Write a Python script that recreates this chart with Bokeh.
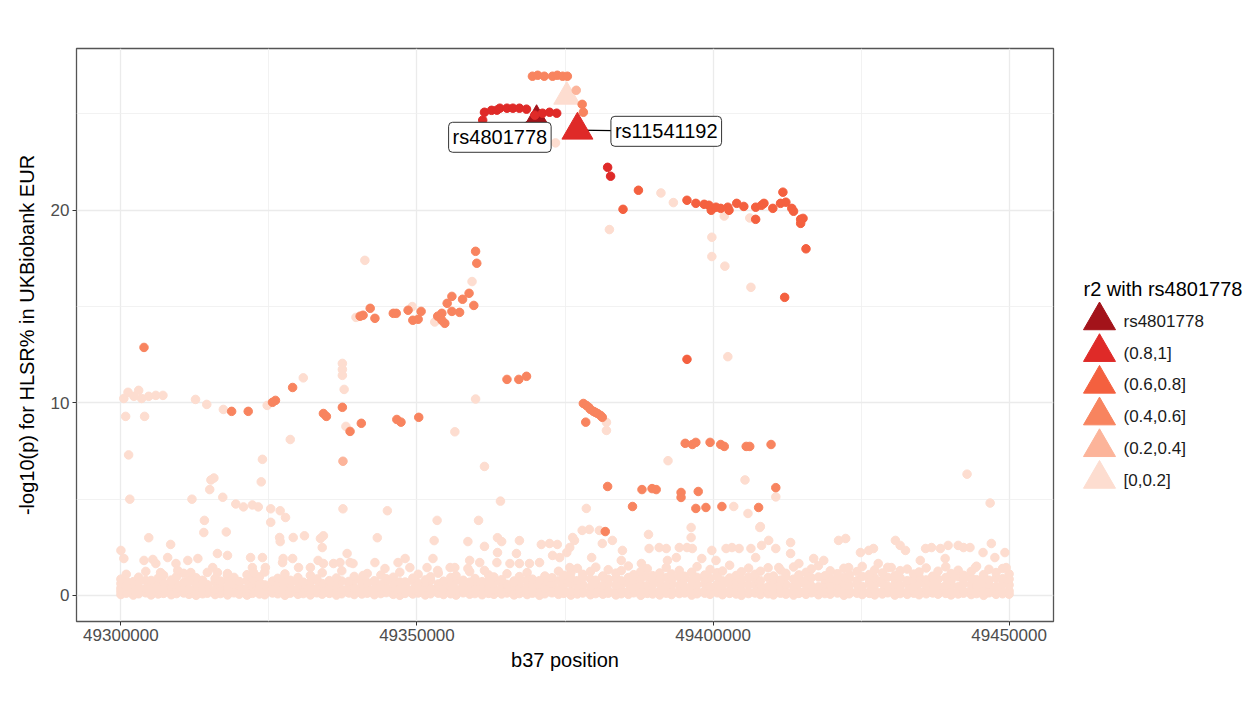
from bokeh.plotting import figure
from bokeh.models import Range1d, FixedTicker, Label, NumeralTickFormatter
from bokeh.layouts import row
from bokeh.embed import file_html
from bokeh.resources import INLINE
from bokeh.core.properties import value

FONT = "Liberation Sans"

# ---------------- data ----------------
categories = ["rs4801778", "(0.8,1]", "(0.6,0.8]", "(0.4,0.6]", "(0.2,0.4]", "[0,0.2]"]
cat_colors = ["#A3131A", "#DF2A28", "#F4603F", "#F8845F", "#FCB49A", "#FDDDD0"]
legend_title = "r2 with rs4801778"

x_ticks = [49300000, 49350000, 49400000, 49450000]
x_minor = [49325000, 49375000, 49425000]
y_ticks = [0, 10, 20]
y_minor = [5, 15, 25]

x_label = "b37 position"
y_label = "-log10(p) for HLSR% in UKBiobank EUR"

# dense band of r2 in [0,0.2] (positions in kb)
band_pos_kb = [
    49300.0, 49300.9, 49302.1, 49303.0, 49304.2, 49305.1, 49306.3, 49307.2, 49308.5, 49309.4,
    49310.6, 49311.5, 49312.7, 49313.8, 49314.6, 49315.9, 49316.8, 49318.0, 49319.1, 49320.0,
    49321.3, 49322.2, 49323.4, 49324.3, 49325.6, 49326.5, 49327.7, 49328.6, 49329.9, 49330.8,
    49332.0, 49333.1, 49334.0, 49335.2, 49336.4, 49337.3, 49338.5, 49339.4, 49340.7, 49341.6,
    49342.8, 49343.9, 49344.8, 49346.0, 49347.1, 49348.0, 49349.3, 49350.2, 49351.4, 49352.3,
    49353.6, 49354.5, 49355.7, 49356.6, 49357.8, 49358.9, 49359.8, 49361.0, 49362.1, 49363.0,
    49364.3, 49365.2, 49366.4, 49367.3, 49368.6, 49369.5, 49370.7, 49371.6, 49372.8, 49373.9,
    49374.8, 49376.0, 49377.1, 49378.0, 49379.3, 49380.2, 49381.4, 49382.3, 49383.6, 49384.5,
    49385.7, 49386.6, 49387.8, 49388.9, 49389.8, 49391.0, 49392.1, 49393.0, 49394.3, 49395.2,
    49396.4, 49397.3, 49398.6, 49399.5, 49400.7, 49401.6, 49402.8, 49403.9, 49404.8, 49406.0,
    49407.1, 49408.0, 49409.3, 49410.2, 49411.4, 49412.3, 49413.6, 49414.5, 49415.7, 49416.6,
    49417.8, 49418.9, 49419.8, 49421.0, 49422.1, 49423.0, 49424.3, 49425.2, 49426.4, 49427.3,
    49428.6, 49429.5, 49430.7, 49431.6, 49432.8, 49433.9, 49434.8, 49436.0, 49437.1, 49438.0,
    49439.3, 49440.2, 49441.4, 49442.3, 49443.6, 49444.5, 49445.7, 49446.6, 49447.8, 49448.9,
    49450.0,
]
band_logp_low = [
    0.05, 0.12, 0.02, 0.09, 0.14, 0.03, 0.08, 0.11, 0.04, 0.10,
    0.13, 0.06, 0.01, 0.09, 0.12, 0.05, 0.10, 0.03, 0.14, 0.07,
    0.02, 0.11, 0.08, 0.04, 0.13, 0.09, 0.01, 0.12, 0.06, 0.10,
    0.03, 0.14, 0.07, 0.11, 0.02, 0.09, 0.13, 0.05, 0.08, 0.12,
    0.04, 0.10, 0.15, 0.06, 0.01, 0.11, 0.08, 0.13, 0.03, 0.09,
    0.12, 0.05, 0.09, 0.02, 0.14, 0.07, 0.10, 0.04, 0.11, 0.06,
    0.08, 0.13, 0.03, 0.10, 0.05, 0.12, 0.01, 0.09, 0.14, 0.06,
    0.11, 0.02, 0.08, 0.13, 0.04, 0.10, 0.07, 0.12, 0.03, 0.09,
    0.06, 0.14, 0.01, 0.11, 0.08, 0.03, 0.12, 0.05, 0.10, 0.13,
    0.02, 0.09, 0.12, 0.06, 0.14, 0.04, 0.11, 0.08, 0.01, 0.10,
    0.13, 0.05, 0.09, 0.03, 0.12, 0.07, 0.02, 0.11, 0.06, 0.14,
    0.04, 0.10, 0.07, 0.13, 0.01, 0.09, 0.12, 0.05, 0.11, 0.03,
    0.08, 0.14, 0.02, 0.10, 0.06, 0.12, 0.04, 0.09, 0.13, 0.07,
    0.11, 0.03, 0.08, 0.12, 0.05, 0.10, 0.01, 0.14, 0.06, 0.09,
    0.07,
]
band_logp_low2 = [
    0.22, 0.18, 0.26, 0.20, 0.24, 0.28, 0.19, 0.23, 0.27, 0.21,
    0.25, 0.19, 0.23, 0.28, 0.20, 0.26, 0.22, 0.18, 0.24, 0.27,
    0.20, 0.25, 0.21, 0.27, 0.18, 0.23, 0.26, 0.19, 0.28, 0.22,
    0.27, 0.21, 0.24, 0.18, 0.26, 0.20, 0.23, 0.28, 0.19, 0.25,
    0.19, 0.26, 0.22, 0.24, 0.28, 0.18, 0.25, 0.21, 0.27, 0.23,
    0.24, 0.28, 0.18, 0.26, 0.21, 0.23, 0.19, 0.27, 0.22, 0.25,
    0.21, 0.23, 0.27, 0.19, 0.25, 0.22, 0.28, 0.20, 0.24, 0.18,
    0.26, 0.20, 0.24, 0.22, 0.19, 0.27, 0.21, 0.25, 0.18, 0.28,
    0.23, 0.27, 0.19, 0.25, 0.21, 0.24, 0.18, 0.26, 0.22, 0.20,
    0.28, 0.22, 0.25, 0.18, 0.27, 0.20, 0.24, 0.21, 0.26, 0.19,
    0.18, 0.24, 0.20, 0.26, 0.23, 0.19, 0.27, 0.22, 0.25, 0.28,
    0.25, 0.19, 0.28, 0.21, 0.24, 0.26, 0.20, 0.23, 0.18, 0.27,
    0.20, 0.26, 0.23, 0.27, 0.18, 0.24, 0.21, 0.28, 0.25, 0.22,
    0.27, 0.21, 0.19, 0.24, 0.26, 0.22, 0.28, 0.20, 0.23, 0.18,
    0.24,
]
band_logp_mid = [
    0.38, 0.45, 0.31, 0.42, 0.36, 0.48, 0.33, 0.41, 0.46, 0.35,
    0.40, 0.32, 0.47, 0.37, 0.44, 0.30, 0.43, 0.39, 0.34, 0.49,
    0.36, 0.42, 0.31, 0.45, 0.38, 0.33, 0.47, 0.40, 0.35, 0.44,
    0.41, 0.34, 0.48, 0.37, 0.43, 0.30, 0.46, 0.39, 0.32, 0.45,
    0.33, 0.47, 0.38, 0.42, 0.35, 0.49, 0.31, 0.44, 0.40, 0.36,
    0.45, 0.37, 0.43, 0.32, 0.48, 0.39, 0.34, 0.46, 0.41, 0.30,
    0.42, 0.35, 0.47, 0.38, 0.44, 0.31, 0.49, 0.36, 0.43, 0.33,
    0.54, 0.61, 0.49, 0.56, 0.45, 0.60, 0.52, 0.63, 0.50, 0.57,
    0.62, 0.47, 0.59, 0.51, 0.55, 0.64, 0.48, 0.58, 0.53, 0.46,
    0.50, 0.56, 0.61, 0.45, 0.58, 0.52, 0.63, 0.49, 0.60, 0.54,
    0.59, 0.53, 0.46, 0.62, 0.51, 0.57, 0.48, 0.64, 0.55, 0.50,
    0.45, 0.60, 0.54, 0.49, 0.63, 0.52, 0.58, 0.47, 0.61, 0.56,
    0.63, 0.48, 0.57, 0.51, 0.60, 0.46, 0.62, 0.53, 0.59, 0.50,
    0.52, 0.58, 0.45, 0.61, 0.54, 0.49, 0.64, 0.56, 0.47, 0.59,
    0.55,
]
band_logp_upper = [
    0.62, 0.74, 0.57, 0.69, 0.78, 0.60, 0.71, 0.65, 0.80, 0.58,
    0.67, 0.75, 0.61, 0.79, 0.56, 0.70, 0.64, 0.77, 0.59, 0.72,
    0.76, 0.63, 0.68, 0.55, 0.73, 0.66, 0.79, 0.60, 0.74, 0.57,
    0.69, 0.78, 0.62, 0.71, 0.58, 0.75, 0.65, 0.80, 0.61, 0.67,
    0.73, 0.56, 0.77, 0.64, 0.70, 0.59, 0.76, 0.63, 0.68, 0.79,
    0.60, 0.72, 0.66, 0.78, 0.55, 0.69, 0.74, 0.62, 0.77, 0.65,
    0.71, 0.58, 0.75, 0.63, 0.80, 0.67, 0.57, 0.73, 0.61, 0.76,
    0.82, 0.91, 0.77, 0.95, 0.86, 0.79, 0.98, 0.84, 0.90, 0.76,
    0.93, 0.81, 0.88, 0.97, 0.78, 0.85, 0.92, 0.80, 0.96, 0.87,
    0.79, 0.94, 0.83, 0.89, 0.99, 0.76, 0.91, 0.86, 0.81, 0.95,
    0.88, 0.77, 0.93, 0.84, 0.80, 0.97, 0.85, 0.90, 0.78, 0.92,
    0.96, 0.82, 0.87, 0.79, 0.94, 0.89, 0.76, 0.99, 0.83, 0.91,
    0.80, 0.95, 0.86, 0.92, 0.77, 0.88, 0.98, 0.81, 0.90, 0.84,
    0.93, 0.78, 0.97, 0.85, 0.89, 0.82, 0.94, 0.79, 0.91, 0.87,
    0.85,
]
band_logp_top = [
    0.85, 1.10, 0.72, 0.95, 1.25, 0.78, 0.90, 1.05, 0.70, 0.98,
    1.15, 0.80, 0.92, 0.68, 1.20, 0.88, 0.75, 1.02, 0.94, 0.71,
    1.08, 0.83, 0.97, 1.22, 0.74, 0.89, 1.12, 0.79, 0.93, 0.69,
    1.04, 0.86, 1.18, 0.77, 0.91, 1.28, 0.73, 0.99, 0.84, 1.14,
    0.76, 1.06, 0.87, 0.95, 1.21, 0.70, 0.90, 1.10, 0.81, 0.97,
    1.16, 0.74, 0.93, 1.03, 0.79, 1.24, 0.88, 0.72, 1.07, 0.96,
    0.82, 1.13, 0.69, 0.98, 1.19, 0.85, 0.77, 1.01, 0.92, 1.26,
    1.05, 1.19, 1.41, 1.10, 1.25, 1.47, 1.01, 1.34, 1.16, 1.29,
    1.53, 1.08, 1.24, 1.39, 1.03, 1.17, 1.45, 1.12, 1.30, 1.00,
    1.21, 1.50, 1.06, 1.35, 1.18, 1.27, 1.57, 1.04, 1.23, 1.42,
    1.10, 1.26, 1.44, 1.01, 1.32, 1.15, 1.48, 1.07, 1.20, 1.38,
    1.55, 1.02, 1.28, 1.13, 1.41, 1.06, 1.24, 1.51, 1.09, 1.33,
    1.17, 1.46, 1.03, 1.29, 1.37, 1.11, 1.22, 1.43, 1.00, 1.26,
    1.49, 1.14, 1.31, 1.05, 1.25, 1.52, 1.08, 1.36, 1.19, 1.40,
    1.12,
]

# scattered r2 in [0,0.2]
pale_pos_kb = [
    49300.0, 49300.5, 49303.9, 49305.4, 49305.9, 49306.7, 49307.9, 49309.3, 49309.6, 49311.3,
    49311.8, 49313.0, 49315.5, 49316.3, 49316.3, 49318.0, 49318.0, 49321.9, 49322.2, 49322.4,
    49323.9, 49324.4, 49327.3, 49327.4, 49329.0, 49330.0, 49332.0, 49333.3, 49334.2, 49335.9,
    49337.0, 49338.2, 49338.7, 49339.2, 49340.9, 49342.9, 49344.6, 49346.8, 49348.0, 49348.8,
    49351.7, 49352.7, 49353.5, 49355.6, 49356.4, 49358.6, 49358.9, 49360.6, 49361.4, 49363.5,
    49363.6, 49365.7, 49366.8, 49367.3, 49369.0, 49370.7, 49372.9, 49374.1, 49375.3, 49375.8,
    49376.6,
    49375.8, 49376.3, 49377.9, 49379.5, 49381.3, 49383.0, 49384.7, 49384.5, 49387.9, 49389.2,
    49390.9, 49392.1, 49392.3, 49393.8, 49394.3, 49395.6, 49396.5, 49398.1, 49399.8, 49400.5,
    49402.2, 49403.2, 49404.4, 49406.4, 49407.2, 49408.2, 49409.4, 49410.6, 49411.1, 49413.1,
    49413.1, 49414.5, 49417.0, 49418.7, 49421.2, 49422.4, 49422.9, 49424.9, 49426.3, 49427.1,
    49427.9, 49430.1, 49430.8, 49431.6, 49432.5, 49435.0, 49435.9, 49436.9, 49438.4, 49439.2,
    49439.7, 49441.4, 49442.3, 49443.4, 49444.3, 49445.6, 49447.0, 49447.6, 49449.3, 49449.5,
    49301.3, 49301.5, 49323.9, 49323.7, 49315.2, 49315.7, 49315.0, 49312.0, 49317.2, 49319.4,
    49320.7, 49322.2, 49323.2, 49314.1, 49314.0, 49317.8, 49304.7, 49308.4, 49328.6, 49337.5,
    49345.0, 49343.3, 49356.4, 49361.4, 49364.1, 49353.4, 49360.4, 49352.9, 49358.6, 49361.4,
    49363.6, 49364.3, 49367.3, 49371.0, 49372.4, 49373.7, 49325.3, 49326.9, 49327.8, 49325.3,
    49326.8, 49326.9, 49329.1, 49331.0, 49333.7, 49334.2, 49334.0, 49382.0, 49382.0, 49392.4,
    49405.4, 49410.6, 49378.6, 49403.5, 49405.9, 49380.8, 49379.1, 49407.9, 49442.9, 49446.8,
    49389.1, 49396.3, 49396.3, 49408.0,
    49300.5, 49301.2, 49302.2, 49303.0, 49303.5, 49304.7, 49305.9, 49307.1, 49300.8, 49304.0,
    49312.6, 49314.5, 49317.3, 49324.7, 49330.8, 49337.4, 49337.4, 49337.4, 49337.7, 49338.0,
    49341.2, 49349.2, 49353.0, 49339.7, 49359.3, 49359.9, 49382.5, 49391.2, 49393.3, 49399.8,
    49399.8, 49402.0, 49401.9, 49406.2, 49406.4, 49402.5, 49373.4,
]
pale_logp = [
    2.34, 1.92, 1.82, 1.87, 1.66, 1.19, 1.97, 1.66, 1.30, 1.82,
    1.19, 1.92, 1.45, 2.18, 1.19, 2.08, 1.14, 1.97, 1.45, 1.19,
    1.97, 1.45, 1.71, 1.92, 1.92, 1.45, 1.45, 1.82, 1.66, 1.66,
    1.71, 2.18, 1.71, 1.66, 1.04, 1.71, 1.40, 1.71, 1.92, 1.45,
    1.45, 1.92, 1.30, 1.45, 1.45, 1.40, 1.82, 1.71, 1.30, 1.71,
    2.23, 1.66, 2.18, 1.66, 1.66, 1.71, 2.08, 1.97, 2.23, 1.45,
    2.86,
    2.49, 3.01, 3.38, 1.97, 2.70, 2.86, 2.34, 1.82, 1.66, 2.44,
    2.49, 2.44, 1.82, 1.97, 2.49, 2.49, 2.44, 1.92, 2.34, 1.82,
    2.44, 2.49, 2.44, 2.44, 1.97, 2.60, 2.86, 2.44, 1.45, 2.75,
    2.18, 1.66, 1.92, 1.82, 2.86, 2.96, 1.45, 2.23, 2.34, 2.44,
    1.66, 1.45, 2.86, 2.60, 2.34, 1.82, 2.44, 2.49, 2.44, 1.92,
    2.60, 2.60, 2.49, 2.49, 1.45, 2.23, 2.70, 1.97, 2.23, 1.45,
    7.30, 5.00, 7.07, 5.90, 6.00, 6.10, 5.50, 5.00, 5.10, 4.75,
    4.60, 4.70, 4.60, 3.90, 3.27, 3.30, 3.00, 2.65, 8.10, 4.50,
    4.40, 3.00, 8.50, 6.70, 4.90, 3.90, 3.90, 2.85, 2.80, 2.55,
    3.00, 2.80, 2.85, 2.65, 2.70, 2.65, 4.50, 4.40, 4.05, 3.80,
    3.01, 2.80, 3.01, 3.10, 2.96, 3.10, 2.49, 8.99, 8.57, 7.00,
    6.00, 5.12, 4.52, 4.62, 4.26, 3.38, 3.43, 3.53, 6.30, 4.80,
    3.17, 3.53, 3.01, 3.58,
    10.23, 10.55, 10.34, 10.65, 10.23, 10.34, 10.39, 10.39, 9.30, 9.30,
    10.18, 9.92, 9.66, 9.87, 11.30, 12.05, 11.74, 11.43, 10.70, 8.78,
    17.40, 15.00, 14.20, 14.44, 16.30, 10.20, 19.00, 20.90, 20.40, 18.60,
    17.60, 17.10, 19.70, 19.60, 16.00, 12.40, 23.50,
]

# r2 in (0.2,0.4]
r2_02_04_pos_kb = [49376.9, 49337.5]
r2_02_04_logp = [26.23, 6.97]

# r2 in (0.4,0.6]
r2_04_06_pos_kb = [
    49369.5, 49370.4, 49371.5, 49372.9, 49373.7, 49374.6, 49375.4, 49377.9, 49378.1, 49359.9,
    49360.1, 49358.8, 49357.7, 49355.9, 49355.1, 49359.6, 49357.2, 49355.9, 49354.2, 49353.5,
    49354.7, 49354.2, 49350.7, 49350.2, 49349.3, 49348.5, 49346.5, 49346.0, 49342.9, 49342.1,
    49340.9, 49340.4, 49303.9, 49329.0, 49326.1, 49325.6, 49318.7, 49321.5, 49334.2, 49334.7,
    49337.4, 49340.6, 49338.7, 49346.6, 49347.3, 49350.3, 49365.2, 49367.2, 49368.5, 49378.1,
    49378.6, 49379.0, 49379.3, 49379.8, 49380.1, 49380.5, 49381.0, 49381.3, 49378.5, 49395.3,
    49396.5, 49397.1, 49399.5, 49401.3, 49401.9, 49405.6, 49406.2, 49409.8, 49382.2, 49388.0,
    49389.7, 49390.4, 49394.6, 49394.6, 49397.5, 49410.6, 49386.4, 49397.1, 49398.8, 49401.5,
    49407.7, 49381.8,
]
r2_04_06_logp = [
    26.96, 27.01, 26.96, 26.96, 27.01, 26.96, 26.96, 25.50, 25.09, 17.87,
    17.25, 15.69, 15.38, 15.53, 15.17, 15.06, 14.70, 14.75, 14.65, 14.50,
    14.13, 14.29, 14.75, 14.34, 14.29, 14.81, 14.65, 14.65, 14.39, 14.91,
    14.55, 14.50, 12.88, 10.80, 10.13, 10.03, 9.56, 9.56, 9.45, 9.30,
    9.77, 8.94, 8.52, 9.14, 9.00, 9.25, 11.22, 11.22, 11.38, 9.97,
    9.87, 9.77, 9.66, 9.56, 9.51, 9.45, 9.35, 9.25, 9.00, 7.90,
    7.84, 7.95, 7.95, 7.84, 7.74, 7.74, 7.74, 7.84, 5.66, 5.50,
    5.55, 5.50, 5.35, 5.09, 5.40, 5.60, 4.62, 4.52, 4.57, 4.62,
    4.57, 3.32,
]

# r2 in (0.6,0.8]
r2_06_08_pos_kb = [
    49387.4, 49384.8, 49395.6, 49397.1, 49398.5, 49399.3, 49399.7, 49400.5, 49401.3, 49402.5,
    49402.7, 49404.0, 49405.2, 49407.2, 49408.2, 49408.6, 49407.2, 49410.1, 49411.4, 49411.8,
    49412.3, 49413.3, 49413.6, 49414.8, 49415.2, 49414.8, 49415.7, 49412.1, 49395.6,
]
r2_06_08_logp = [
    21.04, 20.05, 20.52, 20.36, 20.31, 20.26, 20.00, 20.16, 20.10, 20.16,
    20.00, 20.36, 20.20, 20.16, 20.26, 20.36, 19.53, 20.10, 20.36, 20.94,
    20.42, 20.10, 19.95, 19.53, 19.58, 19.32, 18.00, 15.48, 12.26,
]

# r2 in (0.8,1]
r2_08_1_pos_kb = [
    49361.1, 49361.4, 49362.6, 49363.5, 49364.0, 49365.2, 49366.2, 49367.3, 49368.5, 49369.9,
    49371.2, 49372.4, 49373.6, 49382.2, 49382.7,
]
r2_08_1_logp = [
    24.68, 25.09, 25.19, 25.20, 25.30, 25.30, 25.30, 25.30, 25.25, 24.94,
    25.04, 25.09, 25.04, 22.23, 21.77,
]

# highlighted SNPs (drawn as triangles)
hl_snps = ["rs4801778", "rs11541192", "unlabelled"]
hl_pos_kb = [49370.2, 49377.1, 49375.3]
hl_logp = [24.88, 24.16, 25.90]
hl_class = ["rs4801778", "(0.8,1]", "[0,0.2]"]
labelled = ["rs4801778", "rs11541192"]
label_pos_kb = [49364.0, 49392.1]
label_logp = [23.79, 24.10]

band_rows = [band_logp_low, band_logp_low2, band_logp_mid, band_logp_upper, band_logp_top]
for a, b in [(band_pos_kb, r) for r in band_rows] + [
        (pale_pos_kb, pale_logp), (r2_04_06_pos_kb, r2_04_06_logp),
        (r2_06_08_pos_kb, r2_06_08_logp), (r2_08_1_pos_kb, r2_08_1_logp)]:
    assert len(a) == len(b), (len(a), len(b))

# ---------------- styles ----------------
color_of = dict(zip(categories, cat_colors))
hl_size = {"rs4801778": 20, "rs11541192": 31, "unlabelled": 26}
PT = 8.5


def bp(kb_list):
    return [v * 1000 for v in kb_list]


p = figure(frame_width=977, frame_height=573,
           x_range=Range1d(49292500, 49457500), y_range=Range1d(-1.35, 28.4),
           toolbar_location=None, output_backend="svg",
           min_border_left=76, min_border_right=5, min_border_top=48, min_border_bottom=81,
           background_fill_color="white", border_fill_color="white")
p.outline_line_color = "#555555"
p.outline_line_width = 1.3

p.xaxis.ticker = FixedTicker(ticks=x_ticks, minor_ticks=x_minor)
p.yaxis.ticker = FixedTicker(ticks=y_ticks, minor_ticks=y_minor)
p.xaxis.formatter = NumeralTickFormatter(format="0")
p.xaxis.axis_label = x_label
p.yaxis.axis_label = y_label
for ax in (p.xaxis[0], p.yaxis[0]):
    ax.axis_line_color = None
    ax.major_tick_in = 0
    ax.major_tick_out = 4
    ax.minor_tick_in = 0
    ax.minor_tick_out = 0
    ax.major_tick_line_color = "#333333"
    ax.major_label_text_font = FONT
    ax.major_label_text_font_size = "17px"
    ax.major_label_text_color = "#4D4D4D"
    ax.major_label_standoff = 3
    ax.axis_label_text_font = FONT
    ax.axis_label_text_font_size = "20px"
    ax.axis_label_text_font_style = "normal"
    ax.axis_label_text_color = "black"
p.xaxis.axis_label_standoff = 5
p.yaxis.axis_label_standoff = 10

for g in (p.xgrid[0], p.ygrid[0]):
    g.grid_line_color = "#EBEBEB"
    g.grid_line_width = 1.3
    g.minor_grid_line_color = "#EFEFEF"
    g.minor_grid_line_width = 0.8

pale = color_of["[0,0.2]"]
for ys in band_rows:
    p.scatter(bp(band_pos_kb), ys, size=PT, fill_color=pale, line_color=pale)
p.scatter(bp(pale_pos_kb), pale_logp, size=PT, fill_color=pale, line_color=pale)

# unlabelled highlighted SNP
i = 2
p.scatter([hl_pos_kb[i] * 1000], [hl_logp[i]], marker="triangle", size=hl_size[hl_snps[i]],
          fill_color=color_of[hl_class[i]], line_color=color_of[hl_class[i]])

for xs, ys, cat in [(r2_02_04_pos_kb, r2_02_04_logp, "(0.2,0.4]"),
                    (r2_04_06_pos_kb, r2_04_06_logp, "(0.4,0.6]"),
                    (r2_06_08_pos_kb, r2_06_08_logp, "(0.6,0.8]")]:
    c = color_of[cat]
    p.scatter(bp(xs), ys, size=PT, fill_color=c, line_color=c)

# segments from SNPs to labels
p.segment(x0=bp(hl_pos_kb[:2]), y0=hl_logp[:2], x1=bp(label_pos_kb), y1=label_logp,
          line_color="black", line_width=1.2)

# lead SNP triangle
i = 0
p.scatter([hl_pos_kb[i] * 1000], [hl_logp[i]], marker="triangle", size=hl_size[hl_snps[i]],
          fill_color=color_of[hl_class[i]], line_color=color_of[hl_class[i]])

c = color_of["(0.8,1]"]
p.scatter(bp(r2_08_1_pos_kb), r2_08_1_logp, size=PT, fill_color=c, line_color=c)

i = 1
p.scatter([hl_pos_kb[i] * 1000], [hl_logp[i]], marker="triangle", size=hl_size[hl_snps[i]],
          fill_color=color_of[hl_class[i]], line_color=color_of[hl_class[i]])

for name, lx, ly in zip(labelled, label_pos_kb, label_logp):
    p.add_layout(Label(x=lx * 1000, y=ly, text=name, text_align="center", text_baseline="middle",
                       text_font=FONT, text_font_size="20px", text_color="black",
                       background_fill_color="white", border_line_color="#333333",
                       border_line_width=1, border_radius=4, padding=4))

# ---------------- legend panel ----------------
leg = figure(frame_width=194, frame_height=702, x_range=Range1d(0, 194), y_range=Range1d(702, 0),
             toolbar_location=None, output_backend="svg", x_axis_type=None, y_axis_type=None,
             min_border=0, outline_line_color=None, background_fill_color="white",
             border_fill_color="white")
leg.text(x=[25], y=[240], text=[legend_title], text_font=value(FONT), text_font_size="20px",
         text_baseline="middle", text_align="left", text_color="black")
row_y = [272 + 31.7 * k for k in range(len(categories))]
leg.scatter(x=[41] * len(categories), y=row_y, marker="triangle", size=32,
            fill_color=cat_colors, line_color=cat_colors)
leg.text(x=[65] * len(categories), y=[v + 1 for v in row_y], text=categories, text_font=value(FONT),
         text_font_size="17px", text_baseline="middle", text_align="left", text_color="#1A1A1A")

layout = row(p, leg)
open("out.html", "w").write(file_html(layout, INLINE))
